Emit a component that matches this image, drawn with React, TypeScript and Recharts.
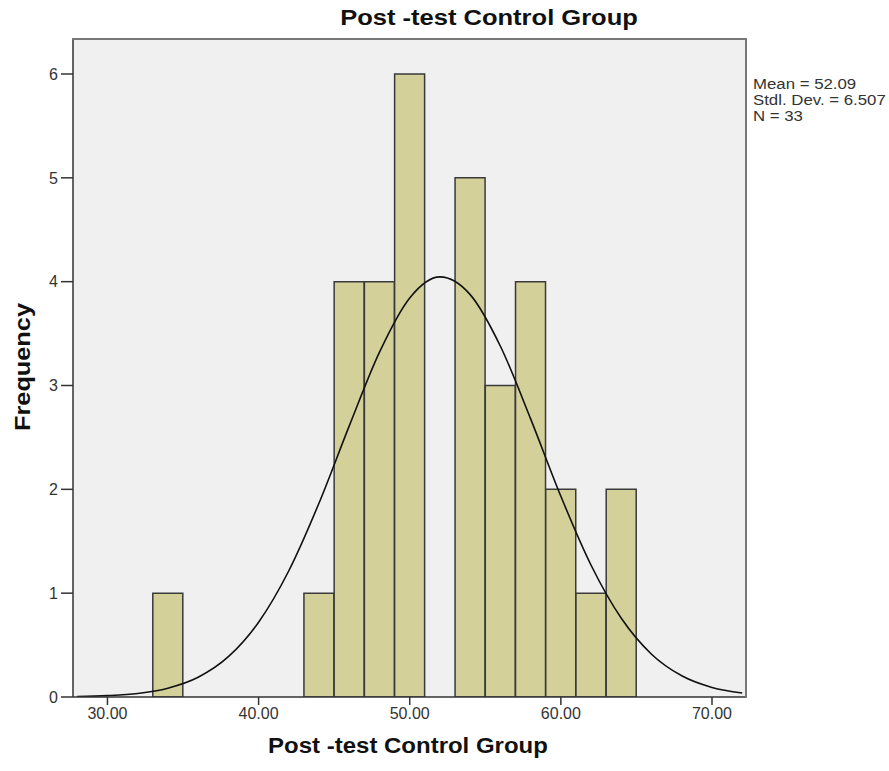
import React from "react";
import { ComposedChart, Bar, Line, XAxis, YAxis, CartesianGrid } from "recharts";

// Bin centres (bin width 2) and frequencies
const binCenters = [28, 30, 32, 34, 36, 38, 40, 42, 44, 46, 48, 50, 52, 54, 56, 58, 60, 62, 64, 66, 68, 70, 72];
const frequencies: (number | null)[] = [null, null, null, 1, null, null, null, null, 1, 4, 4, 6, null, 5, 3, 4, 2, 1, 2, null, null, null, null];
// Normal curve heights read at the same x positions
const curveValues = [0.004, 0.013, 0.034, 0.085, 0.19, 0.388, 0.72, 1.216, 1.868, 2.611, 3.321, 3.843, 4.046, 3.875, 3.378, 2.679, 1.933, 1.269, 0.758, 0.412, 0.204, 0.092, 0.038];

const xTicks = [30, 40, 50, 60, 70];
const yTicks = [0, 1, 2, 3, 4, 5, 6];
const xDomain: [number, number] = [27.72, 72.25];
const yDomain: [number, number] = [0, 6.337];

const title = "Post -test Control Group";
const xLabel = "Post -test Control Group";
const yLabel = "Frequency";
const statsLines = ["Mean = 52.09", "Stdl. Dev. = 6.507", "N = 33"];

const data = binCenters.map((x, i) => ({ x, freq: frequencies[i], curve: curveValues[i] }));

const FONT = '"Liberation Sans", Arial, sans-serif';

export default function App() {
  return (
    <div style={{ position: "absolute", left: 0, top: 0, width: 889, height: 771, background: "#fff", fontFamily: FONT }}>
      <ComposedChart
        width={889}
        height={771}
        data={data}
        margin={{ top: 39, right: 143, left: 0, bottom: 0 }}
        barCategoryGap={0}
        barGap={0}
      >
        <CartesianGrid fill="#f0f0f0" horizontal={false} vertical={false} />
        <XAxis
          dataKey="x"
          type="number"
          domain={xDomain}
          allowDataOverflow
          ticks={xTicks}
          tickFormatter={(v: number) => v.toFixed(2)}
          height={74}
          tickSize={8}
          tickMargin={3}
          stroke="#333"
          strokeWidth={1.5}
          tick={{ fill: "#333", fontSize: 16, fontFamily: FONT }}
        />
        <YAxis
          type="number"
          domain={yDomain}
          allowDataOverflow
          ticks={yTicks}
          width={73}
          tickSize={12}
          tickMargin={3}
          stroke="#333"
          strokeWidth={1.5}
          tick={{ fill: "#333", fontSize: 16, fontFamily: FONT }}
        />
        <Bar dataKey="freq" fill="#d3d09a" stroke="#3a3a3a" strokeWidth={1.5} isAnimationActive={false} />
        <Line dataKey="curve" type="monotone" stroke="#111" strokeWidth={1.6} dot={false} activeDot={false} isAnimationActive={false} />
      </ComposedChart>
      <div style={{ position: "absolute", left: 72, top: 38, width: 675, height: 660, boxSizing: "border-box", border: "2px solid #777", borderLeft: "none", borderBottom: "none", pointerEvents: "none" }} />
      <div style={{ position: "absolute", left: 489, top: 5, transform: "translateX(-50%) scaleX(1.16)", fontSize: 22, fontWeight: "bold", color: "#111", fontFamily: FONT, whiteSpace: "nowrap" }}>
        {title}
      </div>
      <div style={{ position: "absolute", left: 408, top: 733, transform: "translateX(-50%) scaleX(1.09)", fontSize: 22, fontWeight: "bold", color: "#111", fontFamily: FONT, whiteSpace: "nowrap" }}>
        {xLabel}
      </div>
      <div style={{ position: "absolute", left: 23, top: 367, transform: "translate(-50%, -50%) rotate(-90deg) scaleX(1.15)", fontSize: 22, fontWeight: "bold", color: "#111", fontFamily: FONT, whiteSpace: "nowrap" }}>
        {yLabel}
      </div>
      <div style={{ position: "absolute", left: 753, top: 76, transform: "scaleX(1.2)", transformOrigin: "left top", fontSize: 14, lineHeight: "16px", color: "#333", fontFamily: FONT, whiteSpace: "nowrap" }}>
        {statsLines.map((s) => (
          <div key={s}>{s}</div>
        ))}
      </div>
    </div>
  );
}
